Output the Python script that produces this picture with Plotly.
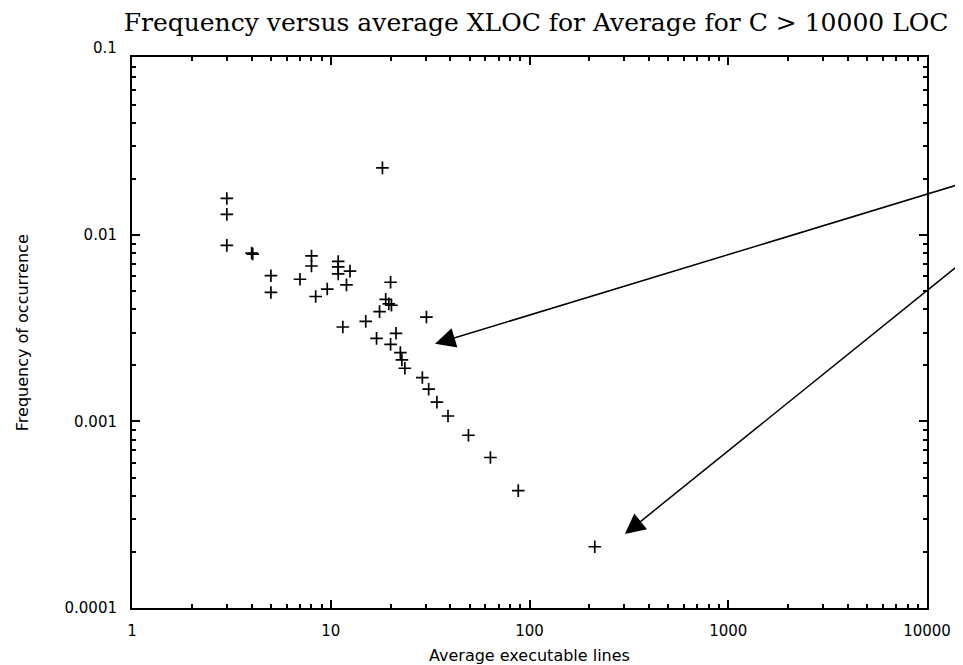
import numpy as np
import plotly.graph_objects as go

# ---- data ----
avg_lines = [3.0, 3.0, 3.0, 4.0, 4.05, 5.0, 5.0, 7.0, 8.0, 8.0, 8.4, 9.6,
             10.9, 10.9, 10.9, 12.5, 12.0, 11.5, 15.0, 18.2,
             20.0, 18.9, 19.6, 20.2, 17.6, 30.3, 21.3, 17.0, 20.0,
             22.4, 22.8, 23.6, 28.9, 31.1, 34.2, 38.9, 49.3, 63.6, 87.8, 213.0]
frequency = [0.0157, 0.0129, 0.0088, 0.0080, 0.0079, 0.00605, 0.00492, 0.00579,
             0.00772, 0.00682, 0.00468, 0.00513,
             0.00721, 0.00674, 0.00619, 0.0064, 0.0054, 0.00321, 0.00344, 0.0229,
             0.00558, 0.00452, 0.00427, 0.0042, 0.00388, 0.00363, 0.00297, 0.00279, 0.00259,
             0.00234, 0.00214, 0.00193, 0.00172, 0.00149, 0.00127, 0.00107,
             0.000844, 0.000641, 0.000426, 0.000213]

x_tick_vals = [1, 10, 100, 1000, 10000]
x_tick_text = ["1", "10", "100", "1000", "10000"]
y_tick_vals = [0.0001, 0.001, 0.01]
y_tick_text = ["0.0001", "0.001", "0.01"]
y_top_value = 0.1
y_top_label = "0.1"

# arrow targets (data coordinates) and tail offsets (pixels)
arrow_x = [33.5, 302.0]
arrow_y = [0.00261, 0.000249]
arrow_ax = [526, 335]
arrow_ay = [-160, -270]

title_text = "Frequency versus average XLOC for Average for C > 10000 LOC"
x_title = "Average executable lines"
y_title = "Frequency of occurrence"

# axis ranges (log10)
x_range = [0, 4]
y_range = [-4, np.log10(0.09)]

# minor tick positions
x_minor = [m * 10 ** k for k in range(0, 4) for m in range(2, 10)]
y_minor = [m * 10 ** k for k in range(-4, -1) for m in range(2, 10)]

fig = go.Figure()
fig.add_trace(go.Scatter(
    x=avg_lines, y=frequency, mode="markers",
    marker=dict(symbol="cross-thin", size=9, color="black",
                line=dict(color="black", width=1.7)),
    showlegend=False, cliponaxis=False,
))

axis_common = dict(
    type="log", showgrid=False, zeroline=False,
    showline=True, linecolor="black", linewidth=2, mirror="ticks",
    ticks="inside", ticklen=8, tickwidth=1.5, tickcolor="black",
    tickfont=dict(family="DejaVu Sans", size=15, color="black"),
)

fig.update_xaxes(
    **axis_common,
    range=x_range,
    tickmode="array", tickvals=x_tick_vals, ticktext=x_tick_text,
    ticklabelstandoff=8,
    minor=dict(tickmode="array", tickvals=x_minor, ticks="inside",
               ticklen=4, tickwidth=1.5, tickcolor="black", showgrid=False),
)
fig.update_yaxes(
    **axis_common,
    range=y_range,
    tickmode="array", tickvals=y_tick_vals, ticktext=y_tick_text,
    ticklabelstandoff=10,
    minor=dict(tickmode="array", tickvals=y_minor, ticks="inside",
               ticklen=4, tickwidth=1.5, tickcolor="black", showgrid=False),
)

annotations = []
for xv, yv, axv, ayv in zip(arrow_x, arrow_y, arrow_ax, arrow_ay):
    annotations.append(dict(
        x=np.log10(xv), y=np.log10(yv), xref="x", yref="y",
        text="", showarrow=True, arrowhead=2, arrowsize=2.7, arrowwidth=1.5,
        arrowcolor="black", ax=axv, ay=ayv, axref="pixel", ayref="pixel",
        standoff=0, startstandoff=0,
    ))
# label for 0.1, just above the top of the frame (y range ends at 0.09)
y_top_paper = (np.log10(y_top_value) - y_range[0]) / (y_range[1] - y_range[0])
annotations.append(dict(
    x=0, y=y_top_paper, xref="paper", yref="paper", text=y_top_label, showarrow=False,
    xanchor="right", yanchor="middle", xshift=-13,
    font=dict(family="DejaVu Sans", size=15, color="black"),
))
annotations.append(dict(
    x=0.5, y=-0.0853, xref="paper", yref="paper", text=x_title, showarrow=False,
    xanchor="center", yanchor="middle",
    font=dict(family="DejaVu Sans", size=16, color="black"),
))
annotations.append(dict(
    x=-0.1375, y=0.5, xref="paper", yref="paper", text=y_title, showarrow=False,
    xanchor="center", yanchor="middle", textangle=-90,
    font=dict(family="DejaVu Sans", size=16, color="black"),
))

# the page adds an 8px body margin, so the figure is 8px smaller than the window
fig.update_layout(
    width=955, height=657, autosize=False,
    margin=dict(l=124, r=31, t=49, b=57),
    paper_bgcolor="white", plot_bgcolor="white",
    title=dict(text=title_text, x=0.5529, y=0.978, xref="container", yref="container",
               xanchor="center", yanchor="middle",
               font=dict(family="DejaVu Serif", size=25, color="black")),
    annotations=annotations,
)

fig.write_html("out.html")
